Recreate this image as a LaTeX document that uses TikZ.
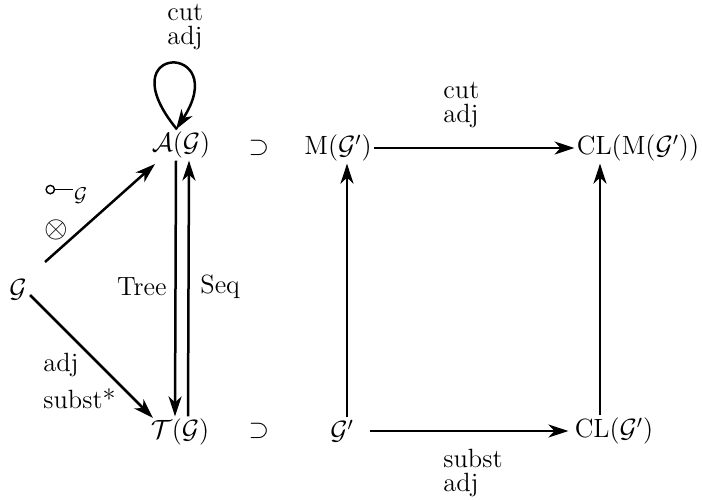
\RequirePackage{fix-cm}
\documentclass[tikz,border=0pt]{standalone}
\usetikzlibrary{arrows.meta}
\newcommand{\circmap}{\tikz[baseline=-0.6ex]{\draw[line width=0.7pt] (0,0) circle (2.1pt); \draw[line width=0.7pt] (2.1pt,0) -- (11.5pt,0);}}
\begin{document}
\begin{tikzpicture}[x=0.5pt,y=-0.5pt, font=\fontsize{13.2}{12}\selectfont,
  every node/.style={inner sep=1pt},
  arr/.style={line width=1.25pt, -{Stealth[length=10pt,width=6.5pt,inset=3pt]}},
  lab/.style={align=left, inner sep=0pt}]
\useasboundingbox (0,0) rectangle (702,499);
% objects
\node (A) at (181,145) {$\mathcal{A}(\mathcal{G})$};
\node (T) at (180,432) {$\mathcal{T}(\mathcal{G})$};
\node (G) at (18,290) {$\mathcal{G}$};
\node (s1) at (259,148) {$\supset$};
\node (s2) at (259,431) {$\supset$};
\node (M) at (338,148) {$\mathrm{M}(\mathcal{G}')$};
\node (CM) at (638,148) {$\mathrm{CL}(\mathrm{M}(\mathcal{G}'))$};
\node (Gp) at (342,431) {$\mathcal{G}'$};
\node (CG) at (614,431) {$\mathrm{CL}(\mathcal{G}')$};
% labels
\node[lab, anchor=north west] (l1) at (167,4) {cut\\adj};
\node[lab, anchor=north west] (l2) at (443,82) {cut\\adj};
\node[lab, anchor=north west] (l3) at (443,449) {subst\\adj};
\node[lab, anchor=north west] (l4) at (43,353) {adj\\[5pt]subst*};
\node[lab, anchor=west] (l5) at (45,194) {\circmap\raisebox{-2.5pt}{\fontsize{10}{10}\selectfont$\mathcal{G}$}};
\node[lab, anchor=west] (l6) at (44,230) {\scalebox{1.15}{$\otimes$}};
\node[lab, anchor=east] (l7) at (167,287) {Tree};
\node[lab, anchor=west] (l8) at (200,287) {Seq};
% connectors
\draw[arr] ([xshift=-2pt]A.north) .. controls (105,42) and (233,42) .. ([xshift=-2.5pt]A.north);
\draw[arr] ([shift={(13.5pt,14pt)}]G.center) -- ([shift={(-13pt,-9.5pt)}]A.center);
\draw[arr] ([shift={(6pt,-2.5pt)}]G.center) -- ([shift={(-13.5pt,7pt)}]T.center);
\draw[arr] ([xshift=-2.5pt]A.south) -- ([xshift=-2.5pt]T.north);
\draw[arr] ([xshift=4pt]T.north) -- ([xshift=4pt]A.south);
\draw[arr] (M.east) -- (CM.west);
\draw[arr] ([xshift=7pt]Gp.east) -- ([xshift=-2pt]CG.west);
\draw[arr] ([xshift=2.5pt]Gp.north) -- ([xshift=4.5pt]M.south);
\draw[arr] ([xshift=-7pt]CG.north) -- ([xshift=-19pt]CM.south);
\end{tikzpicture}
\end{document}
